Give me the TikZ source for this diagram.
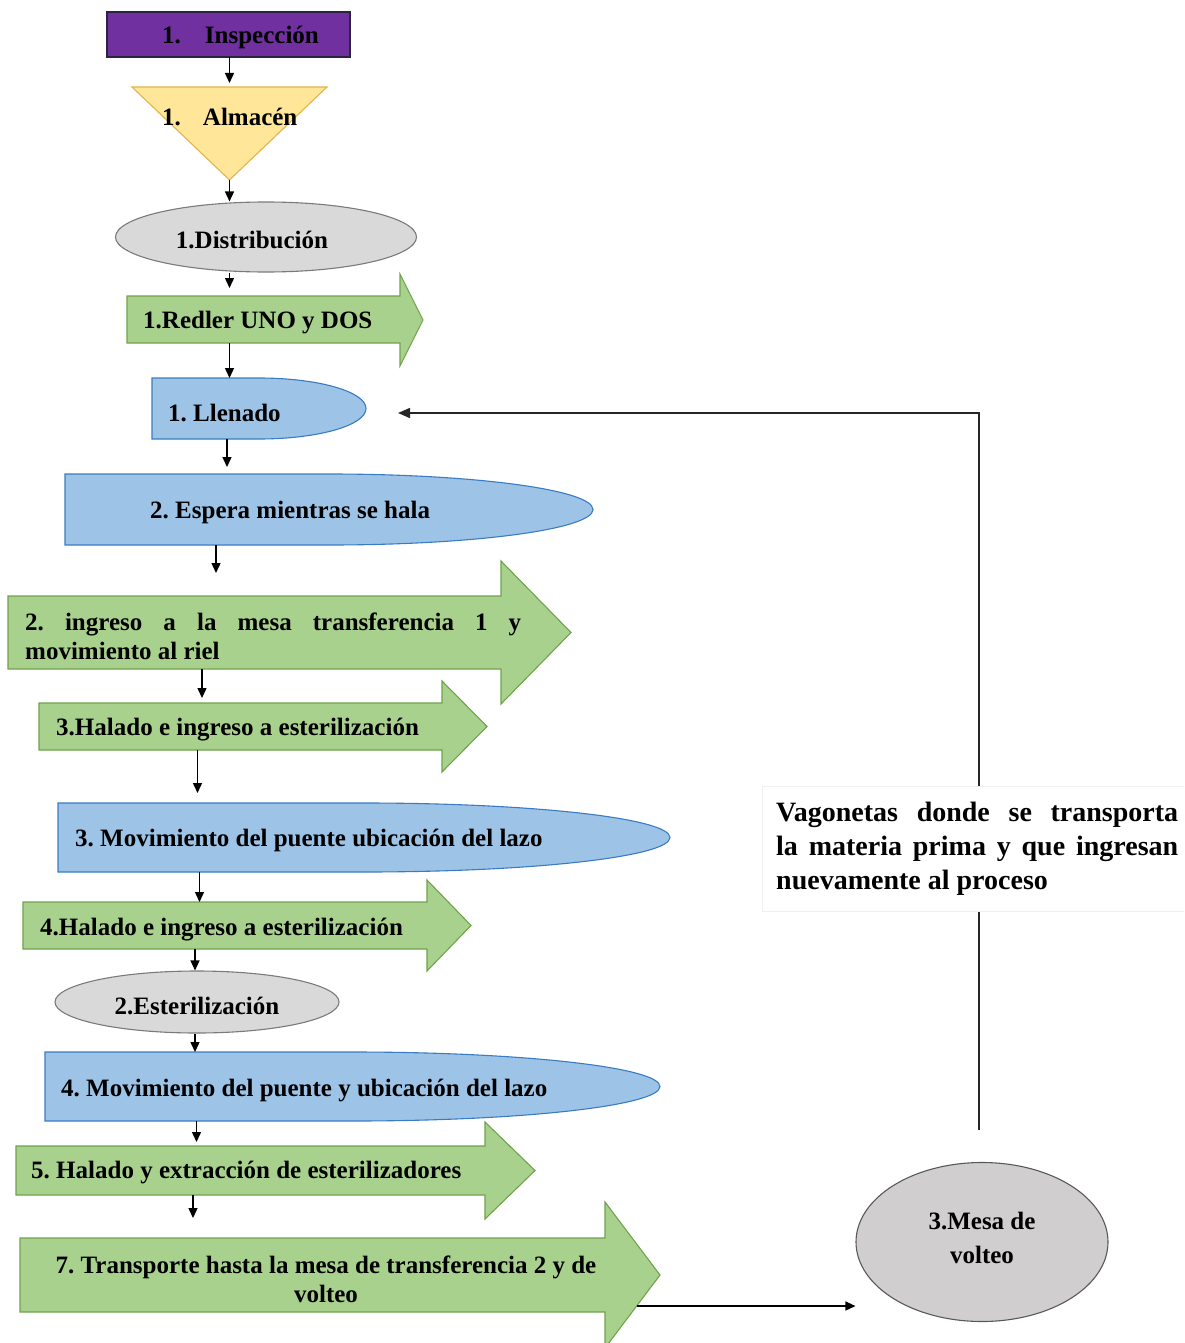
\documentclass[tikz,border=0pt]{standalone}
\usepackage{fontspec}
\setmainfont{Liberation Serif}
\usetikzlibrary{arrows.meta,shapes.geometric}

\definecolor{inspfill}{HTML}{7030A0}
\definecolor{inspline}{HTML}{2B2440}
\definecolor{almfill}{HTML}{FFE699}
\definecolor{almline}{HTML}{E3B448}
\definecolor{grayfill}{HTML}{D9D9D9}
\definecolor{grayline}{HTML}{7A7A7A}
\definecolor{mesafill}{HTML}{D0CECE}
\definecolor{greenfill}{HTML}{A9D18E}
\definecolor{greenline}{HTML}{6FA34B}
\definecolor{bluefill}{HTML}{9DC3E6}
\definecolor{blueline}{HTML}{3A7CC2}

\frenchspacing
\begin{document}
\begin{tikzpicture}[x=1pt,y=-1pt,
  txt/.style={inner sep=0pt, yshift=-2.5pt, font=\fontsize{25}{29}\selectfont\bfseries},
  body/.style 2 args={draw=none, inner sep=0pt, outer sep=0pt, anchor=north west,
                      minimum width=#1, minimum height=#2},
  flow/.style={line width=1.4pt, -{Triangle[length=10pt,width=9pt]}},
  fbline/.style={line width=1.5pt, draw=black!85},
  greenarrow/.style={fill=greenfill, draw=greenline, line width=1.1pt},
  bluebox/.style={fill=bluefill, draw=blueline, line width=1.1pt},
  grayoval/.style={ellipse, fill=grayfill, draw=grayline, line width=1.1pt, inner sep=0pt},
]
\useasboundingbox (0,0) rectangle (1184,1343);
\clip (0,0) rectangle (1184,1343);

% ---- Inspección ----
\node[body={243pt}{45pt}, fill=inspfill, draw=inspline, line width=1.1pt] (insp) at (107,12) {};
\node[txt, anchor=west] (insptxt) at (162,35) {1.\hspace{24pt}Inspección};

% ---- Almacén (inverted triangle) ----
\node[body={195pt}{93pt}] (alm) at (132,87) {};
\path[fill=almfill, draw=almline, line width=1.1pt] (alm.north west) -- (alm.north east) -- (alm.south) -- cycle;
\node[txt, anchor=west] (almtxt) at (162,114) {1.\hspace{22pt}Almacén};

% ---- Distribución ----
\node[grayoval, minimum width=301pt, minimum height=70pt] (dist) at (266,237) {};
\node[txt] (disttxt) at (252,237) {1.Distribución};

% ---- Redler ----
\path[greenarrow] (127,296) -- (400,296) -- (400,274) -- (423,320) -- (400,366) -- (400,343) -- (127,343) -- cycle;
\node[body={273pt}{47pt}] (red) at (127,296) {};
\node[txt, anchor=west] (redtxt) at (143,320) {1.Redler UNO y DOS};

% ---- Llenado ----
\path[bluebox] (152,378) -- (259,378) arc[start angle=90, end angle=-90, x radius=107pt, y radius=30.5pt] -- (152,439) -- cycle;
\node[body={214pt}{61pt}] (llen) at (152,378) {};
\node[txt, anchor=west] (llentxt) at (168,411) {1. Llenado};

% ---- Espera ----
\path[bluebox] (65,474) -- (329,474) arc[start angle=90, end angle=-90, x radius=264pt, y radius=35.5pt] -- (65,545) -- cycle;
\node[body={528pt}{71pt}] (esp) at (65,474) {};
\node[txt, anchor=west] (esptxt) at (150,510) {2. Espera mientras se hala};

% ---- Ingreso a la mesa ----
\path[greenarrow] (8,596) -- (501,596) -- (501,561) -- (571,632.5) -- (501,704) -- (501,669) -- (8,669) -- cycle;
\node[body={493pt}{73pt}] (ingr) at (8,596) {};
\node[txt, anchor=west, text width=496pt, align=justify] (ingrtxt) at (25,634)
  {2. ingreso a la mesa transferencia 1 y\linebreak movimiento al riel};

% ---- 3.Halado ----
\path[greenarrow] (39,703) -- (442,703) -- (442,681) -- (487,726.5) -- (442,772) -- (442,750) -- (39,750) -- cycle;
\node[body={403pt}{47pt}] (hal3) at (39,703) {};
\node[txt, anchor=west] (hal3txt) at (56,727) {3.Halado e ingreso a esterilización};

% ---- 3. Movimiento ----
\path[bluebox] (58,803) -- (364,803) arc[start angle=90, end angle=-90, x radius=306pt, y radius=34.5pt] -- (58,872) -- cycle;
\node[body={612pt}{69pt}] (mov3) at (58,803) {};
\node[txt, anchor=west] (mov3txt) at (75,838) {3. Movimiento del puente ubicación del lazo};

% ---- 4.Halado ----
\path[greenarrow] (23,902) -- (427,902) -- (427,880) -- (471,925.5) -- (427,971) -- (427,949) -- (23,949) -- cycle;
\node[body={404pt}{47pt}] (hal4) at (23,902) {};
\node[txt, anchor=west] (hal4txt) at (40,927) {4.Halado e ingreso a esterilización};

% ---- Esterilización ----
\node[grayoval, minimum width=284pt, minimum height=62pt] (ester) at (197,1002) {};
\node[txt] (estertxt) at (197,1003) {2.Esterilización};

% ---- 4. Movimiento ----
\path[bluebox] (45,1052) -- (352.5,1052) arc[start angle=90, end angle=-90, x radius=307.5pt, y radius=34.5pt] -- (45,1121) -- cycle;
\node[body={615pt}{69pt}] (mov4) at (45,1052) {};
\node[txt, anchor=west] (mov4txt) at (61,1088) {4. Movimiento del puente y ubicación del lazo};

% ---- 5. Halado ----
\path[greenarrow] (16,1146) -- (485,1146) -- (485,1122) -- (535,1170.5) -- (485,1219) -- (485,1195) -- (16,1195) -- cycle;
\node[body={469pt}{49pt}] (hal5) at (16,1146) {};
\node[txt, anchor=west] (hal5txt) at (31,1170) {5. Halado y extracción de esterilizadores};

% ---- 7. Transporte ----
\path[greenarrow] (20,1238) -- (605,1238) -- (605,1202) -- (660,1275) -- (605,1348) -- (605,1312) -- (20,1312) -- cycle;
\node[body={585pt}{74pt}] (transp) at (20,1238) {};
\node[txt, align=center] (transptxt) at (326,1277)
  {7. Transporte hasta la mesa de transferencia 2 y de\\volteo};

% ---- Mesa de volteo ----
\node[ellipse, fill=mesafill, draw=black!65, line width=1.1pt, inner sep=0pt,
      minimum width=252pt, minimum height=159pt] (mesa) at (982,1242) {};
\node[txt, align=center] (mesatxt) at (982,1235) {3.Mesa de\\[5pt]volteo};

% ---- Note on the return line ----
\node[fill=white, draw=black!6, inner xsep=14pt, inner ysep=0pt, minimum height=125pt,
      text width=402pt, align=justify, anchor=west,
      font=\fontsize{28}{34}\selectfont\bfseries] (vag) at (762,849)
  {Vagonetas donde se transporta\linebreak la materia prima y que ingresan\linebreak nuevamente al proceso};

% ---- Connector columns ----
\coordinate (cA) at (229.5,0);
\coordinate (cB) at (227,0);
\coordinate (cC) at (216,0);
\coordinate (cD) at (202,0);
\coordinate (cE) at (197.5,0);
\coordinate (cF) at (199.5,0);
\coordinate (cG) at (195,0);
\coordinate (cH) at (196.5,0);
\coordinate (cI) at (193,0);

% ---- Main flow ----
\draw[flow, shorten >=4pt] (insp.south -| cA) -- (alm.north -| cA);
\draw[flow] (alm.south) -- (dist.north -| cA);
\draw[flow, shorten >=8pt] (dist.south -| cA) -- (red.north -| cA);
\draw[flow] (red.south -| cA) -- (llen.north -| cA);
\draw[flow, shorten >=7pt] (llen.south -| cB) -- (esp.north -| cB);
\draw[flow, shorten >=23pt] (esp.south -| cC) -- (ingr.north -| cC);
\draw[flow, shorten >=5pt] (ingr.south -| cD) -- (hal3.north -| cD);
\draw[flow, shorten >=10pt] (hal3.south -| cE) -- (mov3.north -| cE);
\draw[flow] (mov3.south -| cF) -- (hal4.north -| cF);
\draw[flow] (hal4.south -| cG) -- (ester.north -| cG);
\draw[flow] (ester.south -| cG) -- (mov4.north -| cG);
\draw[flow, shorten >=4pt] (mov4.south -| cH) -- (hal5.north -| cH);
\draw[flow, shorten >=20pt] (hal5.south -| cI) -- (transp.north -| cI);

% ---- To the tipping table ----
\coordinate (tout) at (637,1306);
\draw[flow] (tout) -- (mesa.west |- tout);

% ---- Return of the wagons ----
\coordinate (fbfoot) at (979,1130);
\coordinate (fbtop) at (979,413);
\draw[fbline] (fbfoot) -- (vag.south -| fbfoot);
\draw[fbline, -{Triangle[length=12pt,width=10pt]}, shorten >=32pt]
  (vag.north -| fbfoot) -- (fbtop) -- (llen.east |- fbtop);
\end{tikzpicture}
\end{document}
